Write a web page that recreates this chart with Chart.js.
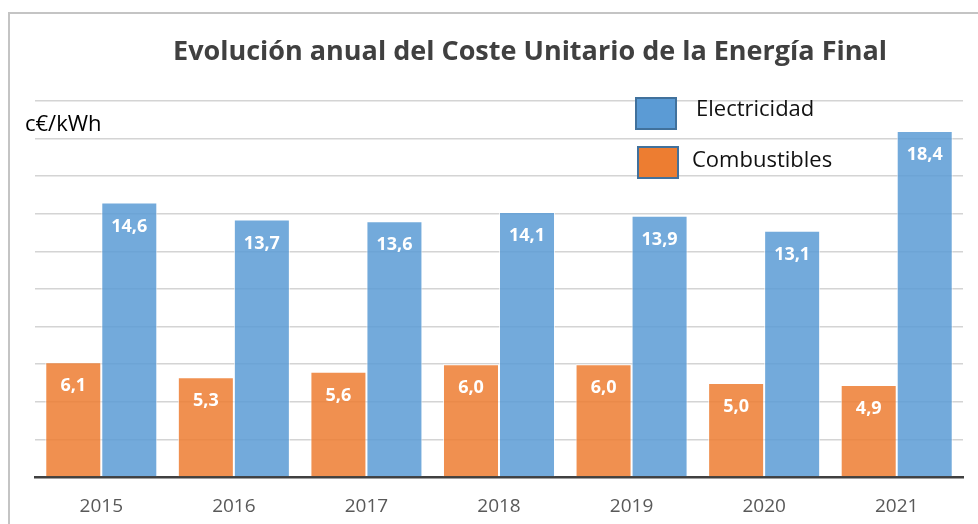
<!DOCTYPE html>
<html>
<head>
<meta charset="utf-8">
<script src="https://cdn.jsdelivr.net/npm/chart.js@4.4.0/dist/chart.umd.min.js"></script>
<style>
  html, body { margin: 0; padding: 0; background: #fff; }
  #wrap { position: relative; width: 978px; height: 524px; }
  #frame { position: absolute; left: 8px; top: 12px; right: -4px; bottom: -4px; border-left: 2px solid #c4c4c4; border-top: 2px solid #c4c4c4; }
  canvas { position: absolute; left: 0; top: 0; }
</style>
</head>
<body>
<div id="wrap">
  <div id="frame"></div>
  <canvas id="chart" width="978" height="524"></canvas>
</div>
<script>
// Chart data
const years = ["2015", "2016", "2017", "2018", "2019", "2020", "2021"];
const combustibles = [6.1, 5.3, 5.6, 6.0, 6.0, 5.0, 4.9];
const electricidad = [14.6, 13.7, 13.6, 14.1, 13.9, 13.1, 18.4];

const titleText = "Evolución anual del Coste Unitario de la Energía Final";
const unitText = "c€/kWh";

const orange = "rgba(237,125,49,0.85)";
const blue = "rgba(91,155,213,0.85)";

// Draws the title, unit label, legend and the value labels inside bars
const decorations = {
    id: "decorations",
    afterDatasetsDraw(chart) {
        const ctx = chart.ctx;
        ctx.save();
        // value labels
        ctx.fillStyle = "#ffffff";
        ctx.font = "bold 18px 'Open Sans', sans-serif";
        ctx.textAlign = "center";
        ctx.textBaseline = "middle";
        chart.data.datasets.forEach((ds, i) => {
            chart.getDatasetMeta(i).data.forEach((bar, j) => {
                const txt = ds.data[j].toFixed(1).replace(".", ",");
                ctx.fillText(txt, bar.x, bar.y + 24);
            });
        });
        ctx.restore();
    },
    afterDraw(chart) {
        const ctx = chart.ctx;
        ctx.save();
        // title
        ctx.fillStyle = "#404040";
        ctx.font = "bold 27px 'Open Sans', sans-serif";
        ctx.textAlign = "center";
        ctx.textBaseline = "middle";
        ctx.fillText(titleText, 530, 52);
        // unit
        ctx.font = "22px 'Open Sans', sans-serif";
        ctx.fillStyle = "#000000";
        ctx.textAlign = "left";
        ctx.fillText(unitText, 25, 125);
        // legend (Electricidad first)
        const items = [
            { ds: chart.data.datasets[1], x: 636, y: 98, tx: 696, ty: 110 },
            { ds: chart.data.datasets[0], x: 638, y: 147, tx: 692, ty: 161 },
        ];
        ctx.font = "22px 'Open Sans', sans-serif";
        items.forEach((it) => {
            ctx.fillStyle = it.ds.legendColor;
            ctx.fillRect(it.x, it.y, 40, 31);
            ctx.strokeStyle = "#41719c";
            ctx.lineWidth = 2;
            ctx.strokeRect(it.x, it.y, 40, 31);
            ctx.fillStyle = "#111111";
            ctx.fillText(it.ds.label, it.tx, it.ty);
        });
        ctx.restore();
    },
};

new Chart(document.getElementById("chart"), {
    type: "bar",
    plugins: [decorations],
    data: {
        labels: years,
        datasets: [
            {
                label: "Combustibles",
                data: combustibles,
                backgroundColor: orange,
                legendColor: "#ed7d31",
                borderColor: "rgba(255,255,255,0.7)",
                borderWidth: 1,
                categoryPercentage: 0.845,
                barPercentage: 1.0,
            },
            {
                label: "Electricidad",
                data: electricidad,
                backgroundColor: blue,
                legendColor: "#5b9bd5",
                borderColor: "rgba(255,255,255,0.7)",
                borderWidth: 1,
                categoryPercentage: 0.845,
                barPercentage: 1.0,
            },
        ],
    },
    options: {
        responsive: false,
        animation: false,
        layout: { padding: { left: 0, right: 15, top: 101, bottom: 0 } },
        plugins: {
            legend: { display: false },
            tooltip: { enabled: false },
        },
        scales: {
            x: {
                grid: { display: false },
                border: { display: true, color: "#404040", width: 2.5 },
                ticks: {
                    color: "#595959",
                    font: { family: "'Open Sans', sans-serif", size: 19 },
                    padding: 10,
                },
                afterFit: (scale) => { scale.height = 47; },
            },
            y: {
                min: 0,
                max: 20,
                ticks: { display: false, stepSize: 2 },
                border: { display: false },
                grid: { color: "#d4d4d4", lineWidth: 1.5, drawTicks: false },
                afterFit: (scale) => { scale.width = 35; },
            },
        },
    },
});
</script>
</body>
</html>
